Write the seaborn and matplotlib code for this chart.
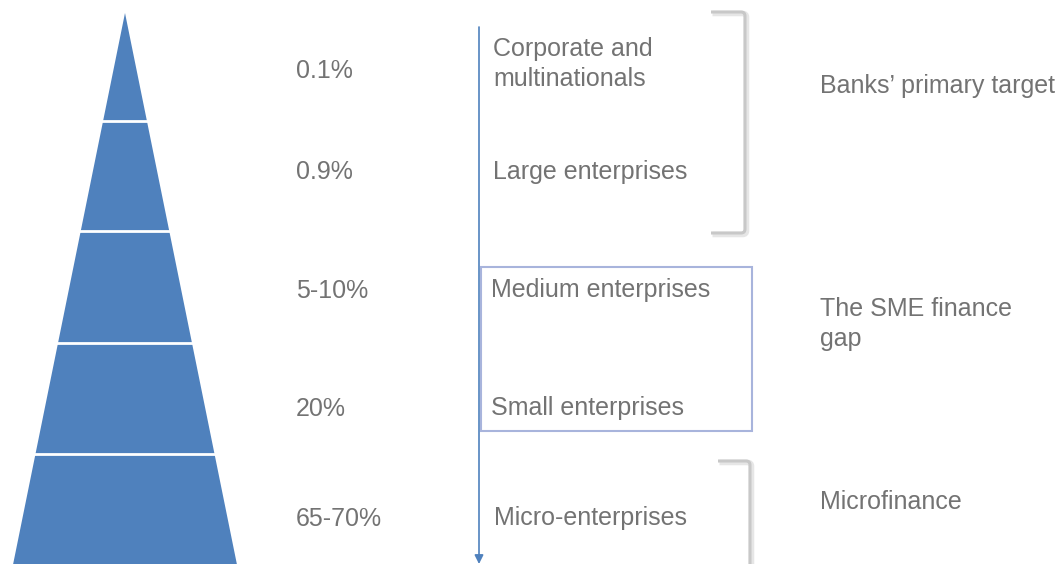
import matplotlib.pyplot as plt
import seaborn as sns
from matplotlib.path import Path
from matplotlib.patches import PathPatch, Rectangle

# ===============================
# DATA
# ===============================
shares = ["0.1%", "0.9%", "5-10%", "20%", "65-70%"]
segments = ["Corporate and\nmultinationals", "Large enterprises", "Medium enterprises",
            "Small enterprises", "Micro-enterprises"]
groups = ["Banks\u2019 primary target", "The SME finance\ngap", "Microfinance"]

# ===============================
# LAYOUT (pixel space)
# ===============================
W, H = 1058, 564
apex_x, apex_y = 125, 13
slope = 0.203                       # half-width per pixel down
band_edges = [13, 121, 231, 343, 454, 575]
share_y = [71, 172, 291, 409, 519]
seg_pos = [(493, 64), (493, 172), (491, 290), (491, 408), (494, 518)]
group_y = [86, 324, 502]

BLUE = "#4f81bd"
GREY_TXT = "#737373"

sns.set_theme(style="white")
plt.rcParams["font.family"] = ["Liberation Sans", "DejaVu Sans"]

fig = plt.figure(figsize=(W / 100, H / 100), dpi=100)
ax = fig.add_axes([0, 0, 1, 1])
ax.set_xlim(0, W)
ax.set_ylim(H, 0)
ax.axis("off")

# pyramid bands
for i in range(len(shares)):
    y0, y1 = band_edges[i], band_edges[i + 1]
    h0 = (y0 - apex_y) * slope
    h1 = (y1 - apex_y) * slope
    xs = [apex_x - h0, apex_x + h0, apex_x + h1, apex_x - h1]
    ys = [y0, y0, y1, y1]
    ax.fill(xs, ys, color=BLUE, ec="none")
# white separators between bands
for y in band_edges[1:-1]:
    h = (y - apex_y) * slope
    ax.plot([apex_x - h - 2, apex_x + h + 2], [y, y], color="white", lw=2)

# share labels
for lab, y in zip(shares, share_y):
    ax.text(296, y, lab, fontsize=18, color=GREY_TXT, va="center", ha="left")

# arrow
ax.annotate("", xy=(479, 564), xytext=(479, 27),
            arrowprops=dict(arrowstyle="-|>", color=BLUE, lw=1.2, mutation_scale=13,
                            shrinkA=0, shrinkB=0))

# segment labels
for lab, (x, y) in zip(segments, seg_pos):
    ax.text(x, y, lab, fontsize=18, color=GREY_TXT, va="center", ha="left",
            linespacing=1.32)

# SME box
ax.add_patch(Rectangle((481, 267), 271, 164, fill=False, ec="#a8b4dc", lw=1.5))


def bracket(x0, x1, y0, y1, r=4):
    verts = [(x0, y0), (x1 - r, y0), (x1, y0), (x1, y0 + r),
             (x1, y1 - r), (x1, y1), (x1 - r, y1), (x0, y1)]
    codes = [Path.MOVETO, Path.LINETO, Path.CURVE3, Path.CURVE3,
             Path.LINETO, Path.CURVE3, Path.CURVE3, Path.LINETO]
    for dx, col, lw in [(1.5, "#e6e6e6", 4), (0, "#c8c8c8", 2.2)]:
        v = [(a + dx, b + dx) for a, b in verts]
        ax.add_patch(PathPatch(Path(v, codes), fill=False, ec=col, lw=lw,
                               capstyle="butt"))


bracket(711, 745, 12, 233)
bracket(718, 750, 461, 600)

# group labels
for lab, y in zip(groups, group_y):
    ax.text(820, y, lab, fontsize=18, color=GREY_TXT, va="center", ha="left",
            linespacing=1.32)

fig.savefig("out.png", dpi=100)
